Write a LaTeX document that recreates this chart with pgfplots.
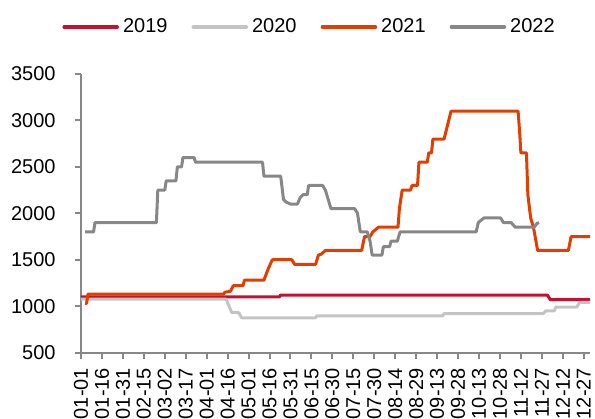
\documentclass[border=0pt]{standalone}
\usepackage{pgfplots}
\pgfplotsset{compat=1.18}
\usepackage{fontspec}
\setmainfont{Liberation Sans}
\definecolor{c2019}{RGB}{200,16,46}
\definecolor{c2020}{RGB}{196,196,196}
\definecolor{c2021}{RGB}{226,62,0}
\definecolor{c2022}{RGB}{135,135,135}
\definecolor{axgray}{RGB}{135,135,135}
\begin{document}
\begin{tikzpicture}
\useasboundingbox (-40.5bp,-33.2bp) rectangle (257bp,176.3bp);
\begin{axis}[
  scale only axis,
  width=254.5bp, height=139.3bp,
  xmin=0, xmax=364.5,
  ymin=500, ymax=3500,
  axis lines*=left,
  axis line style={axgray, line width=1bp},
  every tick/.style={axgray, line width=1bp},
  tick align=outside,
  major tick length=3bp,
  xtick={0,15,...,360},
  xticklabels={01-01,01-16,01-31,02-15,03-02,03-17,04-01,04-16,05-01,05-16,05-31,06-15,06-30,07-15,07-30,08-14,08-29,09-13,09-28,10-13,10-28,11-12,11-27,12-12,12-27},
  ytick={500,1000,...,3500},
  /pgf/number format/assume math mode=true,
  /pgf/number format/1000 sep={},
  ticklabel style={font=\fontsize{10bp}{12bp}\selectfont},
  xticklabel style={rotate=90, anchor=east, inner xsep=4.5bp},
  yticklabel style={inner xsep=9.5bp},
  legend columns=4,
  legend style={at={(0.451,1.1687)}, anchor=center, draw=none, fill=none,
    font=\fontsize{10bp}{12bp}\selectfont,
    /tikz/every even column/.append style={column sep=10bp}},
  legend image code/.code={\draw[#1, line width=1.8bp, line cap=round] (0bp,0bp) -- (26.5bp,0bp);},
  every axis plot/.append style={line width=1.5bp, line join=round},
]
\addplot[c2019] coordinates {(0,1100) (142,1100) (143,1120) (334,1120) (336,1070) (364.5,1070)};
\addlegendentry{2019}
\addplot[c2020] coordinates {(0,1075) (104,1075) (106,1000) (108,930) (113,930) (115,875) (168,875) (169,895) (259,895) (260,920) (331,920) (333,950) (339,950) (340,990) (355,990) (357,1040) (364.5,1040)};
\addlegendentry{2020}
\addplot[c2021] coordinates {(3,1030) (4,1030) (5,1130) (102,1130) (103,1150) (107,1160) (109,1220) (116,1220) (117,1280) (131,1280) (133,1360) (134,1400) (137,1500) (151,1500) (153,1450) (168,1450) (170,1550) (172,1560) (175,1600) (201,1600) (203,1750) (207,1750) (209,1800) (213,1850) (227,1850) (228,2050) (230,2250) (236,2250) (237,2300) (241,2300) (242,2550) (248,2550) (249,2650) (251,2650) (252,2800) (260,2800) (265,3100) (313,3100) (314,2900) (315,2650) (319,2650) (320,2200) (322,1950) (324,1850) (327,1600) (349,1600) (351,1750) (364.5,1750)};
\addlegendentry{2021}
\addplot[c2022] coordinates {(3,1800) (9,1800) (10,1900) (54,1900) (55,2250) (60,2250) (61,2350) (68,2350) (69,2500) (72,2500) (73,2600) (81,2600) (82,2550) (130,2550) (131,2400) (143,2400) (145,2150) (147,2120) (150,2100) (155,2100) (157,2170) (159,2200) (162,2200) (163,2300) (173,2300) (175,2250) (176,2200) (179,2050) (196,2050) (198,2000) (200,1800) (205,1800) (207,1700) (208.5,1550) (215.5,1550) (216.5,1640) (221,1640) (222,1700) (226.5,1700) (228.5,1800) (283,1800) (284.5,1900) (288.5,1950) (300.5,1950) (302.5,1900) (308,1900) (311,1850) (324.5,1850) (326.5,1890) (328,1900)};
\addlegendentry{2022}
\end{axis}
\end{tikzpicture}
\end{document}
